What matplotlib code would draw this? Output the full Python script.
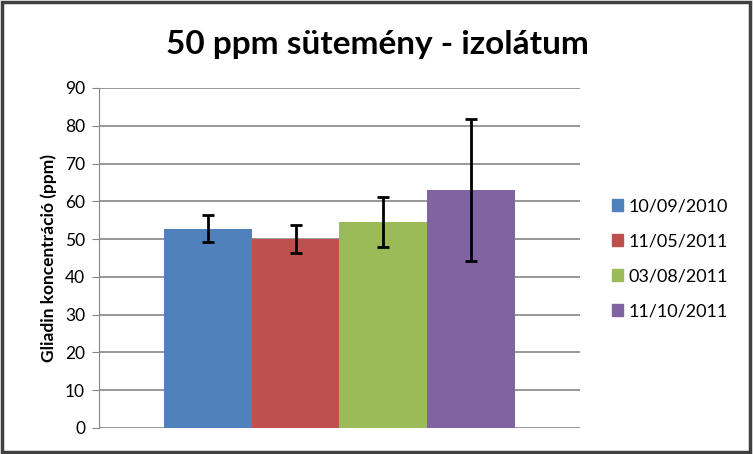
import numpy as np
import matplotlib.pyplot as plt
from matplotlib.patches import Rectangle, Patch

dates = ['10/09/2010', '11/05/2011', '03/08/2011', '11/10/2011']
means = [52.8, 50.0, 54.6, 63.0]
errs = [3.6, 3.7, 6.6, 18.7]
colors = ['#4F81BD', '#C0504D', '#9BBB59', '#8064A2']

plt.rcParams['font.family'] = ['Lato', 'DejaVu Sans']

fig = plt.figure(figsize=(7.54, 4.54), dpi=100)
ax = fig.add_axes([0.1313, 0.0573, 0.6379, 0.7489])

w = 0.182
for i, (m, e, c) in enumerate(zip(means, errs, colors)):
    x = (i - 1.5) * w
    ax.bar(x, m, width=w, color=c, zorder=2)
    ax.errorbar(x, m, yerr=e, color='black', lw=2, capsize=4.5, capthick=2, zorder=3)

ax.set_xlim(-0.5, 0.5)
ax.set_ylim(0, 90)
ax.set_yticks(np.arange(0, 91, 10))
ax.set_xticks([])
ax.yaxis.grid(True, color='#868686', lw=1.2)
ax.set_axisbelow(True)
for s in ['top', 'right', 'bottom']:
    ax.spines[s].set_visible(False)
ax.spines['left'].set_color('#868686')
ax.tick_params(axis='y', length=5, color='#868686', labelsize=12.5, pad=5)
ax.set_ylabel('Gliadin koncentráció (ppm)', fontsize=12.5, fontweight='bold', labelpad=6)

fig.suptitle('50 ppm sütemény - izolátum', fontsize=24, fontweight='bold', x=0.5, y=0.935)

handles = [Patch(color=c) for c in colors]
fig.legend(handles, dates, loc='center left', bbox_to_anchor=(0.79, 0.43), frameon=False,
           fontsize=13, handlelength=0.6, handleheight=0.6, handletextpad=0.3, labelspacing=1.05)

fig.patches.append(Rectangle((0.002, 0.004), 0.993, 0.992, transform=fig.transFigure,
                             fill=False, edgecolor='#404040', lw=2.5))

fig.savefig('out.png', dpi=100)
